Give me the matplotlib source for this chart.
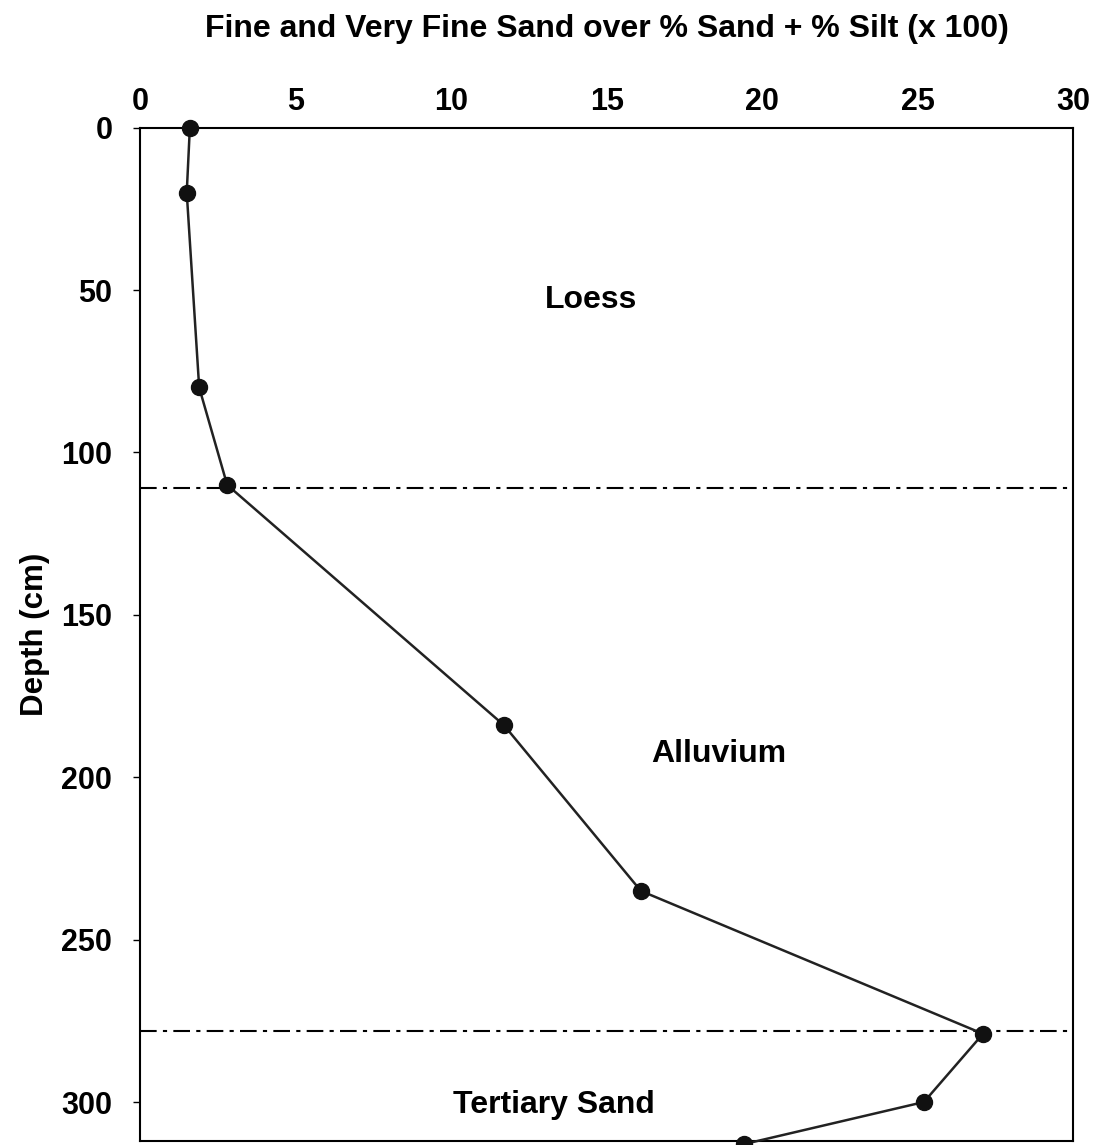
import matplotlib
matplotlib.use('Agg')
from matplotlib import pyplot as plt

# ratio of fine + very fine sand over (% sand + % silt), x 100
ratio = [1.6, 1.5, 1.9, 2.8, 11.7, 16.1, 27.1, 25.2, 19.4]
depth = [0, 20, 80, 110, 184, 235, 279, 300, 313]

# unit boundaries (cm)
boundaries = [111, 278]

units = ['Loess', 'Alluvium', 'Tertiary Sand']
unit_x = [14.5, 18.6, 13.3]
unit_y = [53, 193, 301]

xticks = [0, 5, 10, 15, 20, 25, 30]
yticks = [0, 50, 100, 150, 200, 250, 300]

plt.rcParams['font.family'] = ['Liberation Sans', 'DejaVu Sans']
plt.rcParams['font.weight'] = 'bold'

fig = plt.figure(figsize=(11.03, 11.45), dpi=100)
ax = fig.add_axes([0.127, 0.0035, 0.846, 0.885])

for b in boundaries:
    ax.axhline(b, color='black', lw=1.5, ls=(0, (8, 3, 2, 3)))

ax.plot(ratio, depth, color='#222222', lw=1.8, marker='o', ms=11.5,
        mfc='#111111', mec='#111111', clip_on=False, zorder=3)

for name, x, y in zip(units, unit_x, unit_y):
    ax.text(x, y, name, ha='center', va='center', fontsize=23, fontweight='bold')

ax.set_xlim(0, 30)
ax.set_ylim(312, 0)
ax.xaxis.tick_top()
ax.xaxis.set_label_position('top')
ax.set_xticks(xticks)
ax.set_yticks(yticks)
ax.tick_params(axis='x', length=0, pad=8, labelsize=22)
ax.tick_params(axis='y', length=5, width=1, pad=15, labelsize=22)
for lab in ax.get_xticklabels() + ax.get_yticklabels():
    lab.set_fontweight('bold')
ax.set_xlabel('Fine and Very Fine Sand over % Sand + % Silt (x 100)',
              fontsize=23, fontweight='bold', labelpad=36)
ax.set_ylabel('Depth (cm)', fontsize=22.5, fontweight='bold', labelpad=8)
for s in ax.spines.values():
    s.set_linewidth(1.5)

fig.savefig('out.png', dpi=100)
